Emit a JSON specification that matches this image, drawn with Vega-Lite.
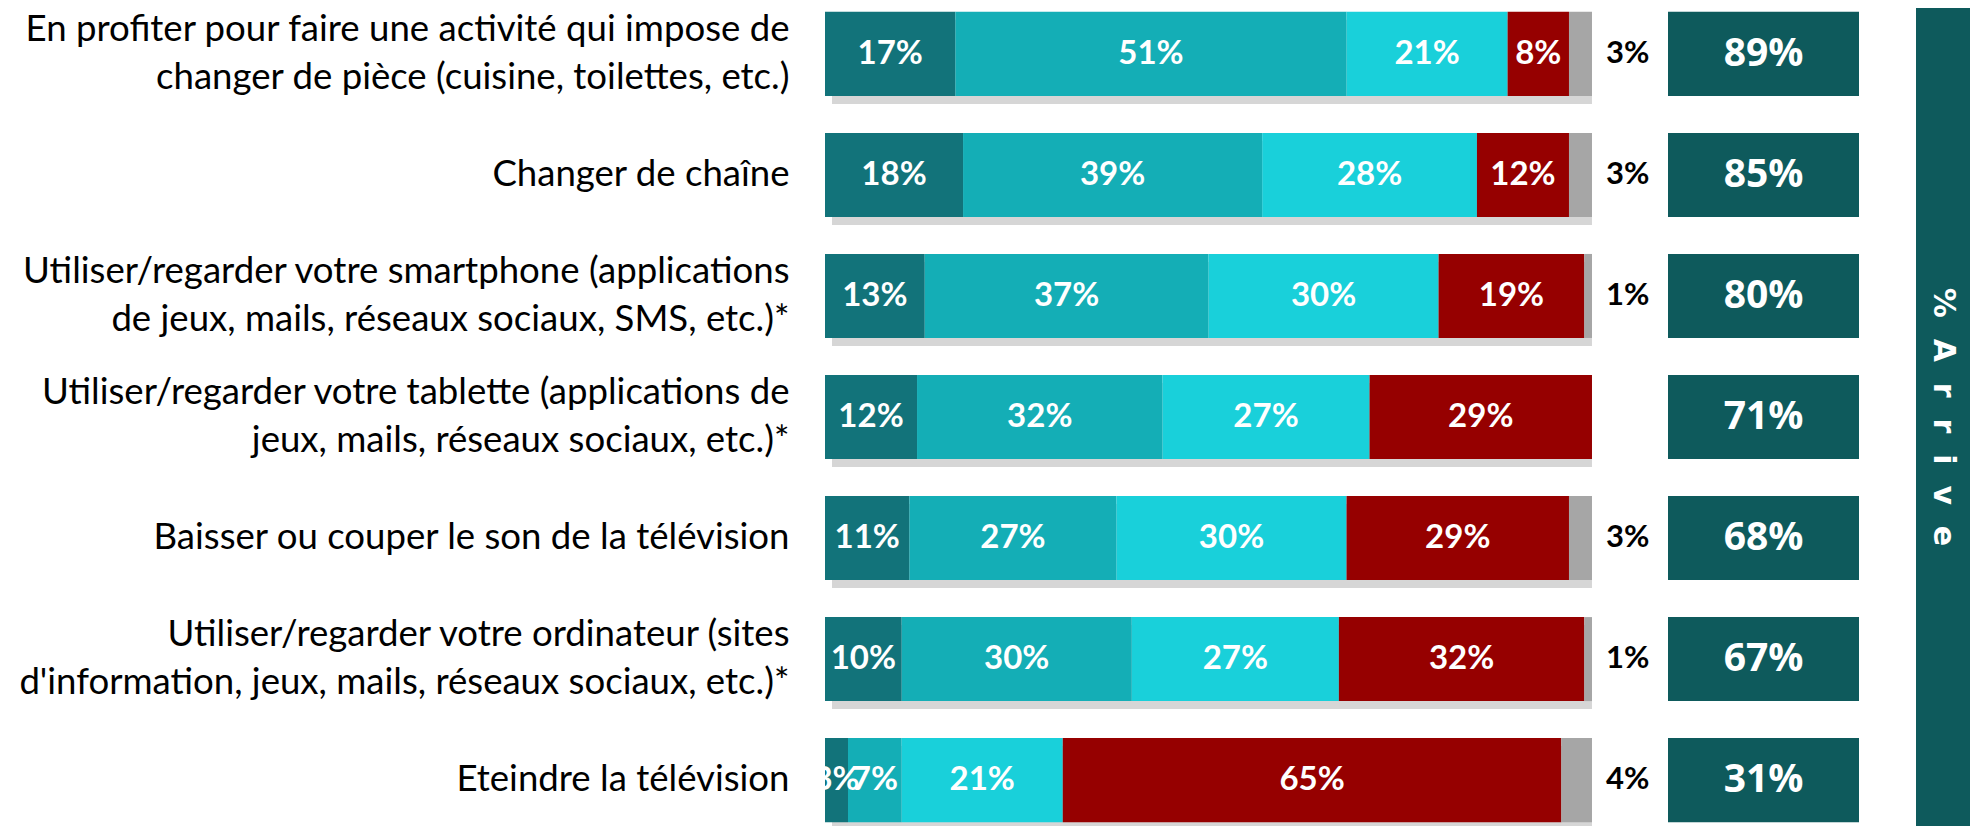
{
  "$schema": "https://vega.github.io/schema/vega-lite/v6.json",
  "padding": {"left": 0, "top": 8, "right": 0, "bottom": 0},
  "background": "white",
  "config": {"view": {"stroke": null}, "concat": {"spacing": 0}},
  "datasets": {
    "seg": [
      {"item": "En profiter pour faire une activité qui impose de|changer de pièce (cuisine, toilettes, etc.)", "cat": "Systématiquement", "order": 1, "v": 0.17},
      {"item": "En profiter pour faire une activité qui impose de|changer de pièce (cuisine, toilettes, etc.)", "cat": "Souvent", "order": 2, "v": 0.51},
      {"item": "En profiter pour faire une activité qui impose de|changer de pièce (cuisine, toilettes, etc.)", "cat": "De temps en temps", "order": 3, "v": 0.21},
      {"item": "En profiter pour faire une activité qui impose de|changer de pièce (cuisine, toilettes, etc.)", "cat": "Jamais", "order": 4, "v": 0.08},
      {"item": "En profiter pour faire une activité qui impose de|changer de pièce (cuisine, toilettes, etc.)", "cat": "NSP", "order": 5, "v": 0.03},
      {"item": "Changer de chaîne", "cat": "Systématiquement", "order": 1, "v": 0.18},
      {"item": "Changer de chaîne", "cat": "Souvent", "order": 2, "v": 0.39},
      {"item": "Changer de chaîne", "cat": "De temps en temps", "order": 3, "v": 0.28},
      {"item": "Changer de chaîne", "cat": "Jamais", "order": 4, "v": 0.12},
      {"item": "Changer de chaîne", "cat": "NSP", "order": 5, "v": 0.03},
      {"item": "Utiliser/regarder votre smartphone (applications|de jeux, mails, réseaux sociaux, SMS, etc.)*", "cat": "Systématiquement", "order": 1, "v": 0.13},
      {"item": "Utiliser/regarder votre smartphone (applications|de jeux, mails, réseaux sociaux, SMS, etc.)*", "cat": "Souvent", "order": 2, "v": 0.37},
      {"item": "Utiliser/regarder votre smartphone (applications|de jeux, mails, réseaux sociaux, SMS, etc.)*", "cat": "De temps en temps", "order": 3, "v": 0.30},
      {"item": "Utiliser/regarder votre smartphone (applications|de jeux, mails, réseaux sociaux, SMS, etc.)*", "cat": "Jamais", "order": 4, "v": 0.19},
      {"item": "Utiliser/regarder votre smartphone (applications|de jeux, mails, réseaux sociaux, SMS, etc.)*", "cat": "NSP", "order": 5, "v": 0.01},
      {"item": "Utiliser/regarder votre tablette (applications de|jeux, mails, réseaux sociaux, etc.)*", "cat": "Systématiquement", "order": 1, "v": 0.12},
      {"item": "Utiliser/regarder votre tablette (applications de|jeux, mails, réseaux sociaux, etc.)*", "cat": "Souvent", "order": 2, "v": 0.32},
      {"item": "Utiliser/regarder votre tablette (applications de|jeux, mails, réseaux sociaux, etc.)*", "cat": "De temps en temps", "order": 3, "v": 0.27},
      {"item": "Utiliser/regarder votre tablette (applications de|jeux, mails, réseaux sociaux, etc.)*", "cat": "Jamais", "order": 4, "v": 0.29},
      {"item": "Baisser ou couper le son de la télévision", "cat": "Systématiquement", "order": 1, "v": 0.11},
      {"item": "Baisser ou couper le son de la télévision", "cat": "Souvent", "order": 2, "v": 0.27},
      {"item": "Baisser ou couper le son de la télévision", "cat": "De temps en temps", "order": 3, "v": 0.30},
      {"item": "Baisser ou couper le son de la télévision", "cat": "Jamais", "order": 4, "v": 0.29},
      {"item": "Baisser ou couper le son de la télévision", "cat": "NSP", "order": 5, "v": 0.03},
      {"item": "Utiliser/regarder votre ordinateur (sites|d'information, jeux, mails, réseaux sociaux, etc.)*", "cat": "Systématiquement", "order": 1, "v": 0.10},
      {"item": "Utiliser/regarder votre ordinateur (sites|d'information, jeux, mails, réseaux sociaux, etc.)*", "cat": "Souvent", "order": 2, "v": 0.30},
      {"item": "Utiliser/regarder votre ordinateur (sites|d'information, jeux, mails, réseaux sociaux, etc.)*", "cat": "De temps en temps", "order": 3, "v": 0.27},
      {"item": "Utiliser/regarder votre ordinateur (sites|d'information, jeux, mails, réseaux sociaux, etc.)*", "cat": "Jamais", "order": 4, "v": 0.32},
      {"item": "Utiliser/regarder votre ordinateur (sites|d'information, jeux, mails, réseaux sociaux, etc.)*", "cat": "NSP", "order": 5, "v": 0.01},
      {"item": "Eteindre la télévision", "cat": "Systématiquement", "order": 1, "v": 0.03},
      {"item": "Eteindre la télévision", "cat": "Souvent", "order": 2, "v": 0.07},
      {"item": "Eteindre la télévision", "cat": "De temps en temps", "order": 3, "v": 0.21},
      {"item": "Eteindre la télévision", "cat": "Jamais", "order": 4, "v": 0.65},
      {"item": "Eteindre la télévision", "cat": "NSP", "order": 5, "v": 0.04}
    ],
    "arrive": [
      {"item": "En profiter pour faire une activité qui impose de|changer de pièce (cuisine, toilettes, etc.)", "arrive": 0.89},
      {"item": "Changer de chaîne", "arrive": 0.85},
      {"item": "Utiliser/regarder votre smartphone (applications|de jeux, mails, réseaux sociaux, SMS, etc.)*", "arrive": 0.80},
      {"item": "Utiliser/regarder votre tablette (applications de|jeux, mails, réseaux sociaux, etc.)*", "arrive": 0.71},
      {"item": "Baisser ou couper le son de la télévision", "arrive": 0.68},
      {"item": "Utiliser/regarder votre ordinateur (sites|d'information, jeux, mails, réseaux sociaux, etc.)*", "arrive": 0.67},
      {"item": "Eteindre la télévision", "arrive": 0.31}
    ],
    "strip": [{"label": "%\u00a0\u00a0A\u00a0\u00a0r\u00a0\u00a0r\u00a0\u00a0i\u00a0\u00a0v\u00a0\u00a0e"}]
  },
  "hconcat": [
    {
      "width": 843,
      "height": 818,
      "data": {"name": "seg"},
      "encoding": {
        "y": {
          "field": "item", "type": "nominal", "sort": null,
          "scale": {"paddingInner": 0.306, "paddingOuter": 0.032},
          "axis": {
            "title": null, "domain": false, "ticks": false,
            "labelPadding": 36, "labelLimit": 1200,
            "labelFont": "Lato", "labelFontSize": 36.6, "labelColor": "#000000",
            "labelLineHeight": 48, "labelAlign": "right", "labelBaseline": "middle",
            "labelExpr": "split(datum.label, '|')",
            "labelOffset": {"condition": {"test": "indexof(datum.value, '|') >= 0", "value": -24}, "value": 0},
            "minExtent": 825, "maxExtent": 825
          }
        }
      },
      "layer": [
        {
          "transform": [{"filter": "datum.order == 1"}],
          "mark": {"type": "bar", "color": "#c8c8c8", "opacity": 0.75, "xOffset": 7, "yOffset": 8},
          "encoding": {
            "x": {"datum": 0, "type": "quantitative", "scale": {"domain": [0, 1.0991], "nice": false, "zero": true}, "axis": null},
            "x2": {"datum": 1}
          }
        },
        {
          "mark": {"type": "bar"},
          "encoding": {
            "x": {"field": "v", "type": "quantitative", "stack": "zero", "axis": null},
            "color": {
              "field": "cat", "type": "nominal", "legend": null,
              "scale": {
                "domain": ["Systématiquement", "Souvent", "De temps en temps", "Jamais", "NSP"],
                "range": ["#12737A", "#14AEB6", "#19D0DA", "#960000", "#A6A6A6"]
              }
            },
            "order": {"field": "order", "type": "quantitative"}
          }
        },
        {
          "transform": [{"filter": "datum.order < 5"}],
          "mark": {"type": "text", "color": "white", "font": "Lato", "fontWeight": "bold", "fontSize": 33, "align": "center", "baseline": "middle"},
          "encoding": {
            "x": {"field": "v", "type": "quantitative", "stack": "zero", "bandPosition": 0.5},
            "detail": {"field": "cat"},
            "order": {"field": "order", "type": "quantitative"},
            "text": {"field": "v", "type": "quantitative", "format": ".0%"}
          }
        },
        {
          "transform": [{"filter": "datum.order == 5"}],
          "mark": {"type": "text", "color": "black", "font": "Lato", "fontWeight": "bold", "fontSize": 31, "align": "left", "baseline": "middle", "dx": 14},
          "encoding": {
            "x": {"datum": 1, "type": "quantitative"},
            "text": {"field": "v", "type": "quantitative", "format": ".0%"}
          }
        }
      ]
    },
    {
      "spacing": 57,
      "hconcat": [
        {
          "width": 191,
          "height": 818,
          "data": {"name": "arrive"},
          "encoding": {
            "y": {
              "field": "item", "type": "nominal", "sort": null,
              "scale": {"paddingInner": 0.306, "paddingOuter": 0.032},
              "axis": null
            }
          },
          "layer": [
            {
              "mark": {"type": "bar", "color": "#0E5A5C"},
              "encoding": {
                "x": {"datum": 0, "type": "quantitative", "scale": {"domain": [0, 1], "nice": false}, "axis": null},
                "x2": {"datum": 1}
              }
            },
            {
              "mark": {"type": "text", "color": "white", "font": "Open Sans", "fontWeight": "bold", "fontSize": 39, "align": "center", "baseline": "middle"},
              "encoding": {
                "x": {"datum": 0.5, "type": "quantitative"},
                "text": {"field": "arrive", "type": "quantitative", "format": ".0%"}
              }
            }
          ]
        },
        {
          "width": 54,
          "height": 818,
          "data": {"name": "strip"},
          "layer": [
            {
              "mark": {"type": "bar", "color": "#0E5A5C"},
              "encoding": {
                "x": {"datum": 0, "type": "quantitative", "scale": {"domain": [0, 1], "nice": false}, "axis": null},
                "x2": {"datum": 1},
                "y": {"datum": 0, "type": "quantitative", "scale": {"domain": [0, 1], "nice": false}, "axis": null},
                "y2": {"datum": 1}
              }
            },
            {
              "mark": {"type": "text", "color": "white", "font": "DejaVu Sans", "fontWeight": "bold", "fontSize": 30, "align": "center", "baseline": "middle", "angle": 90},
              "encoding": {
                "x": {"datum": 0.5, "type": "quantitative"},
                "y": {"datum": 0.5, "type": "quantitative"},
                "text": {"field": "label"}
              }
            }
          ]
        }
      ]
    }
  ]
}
